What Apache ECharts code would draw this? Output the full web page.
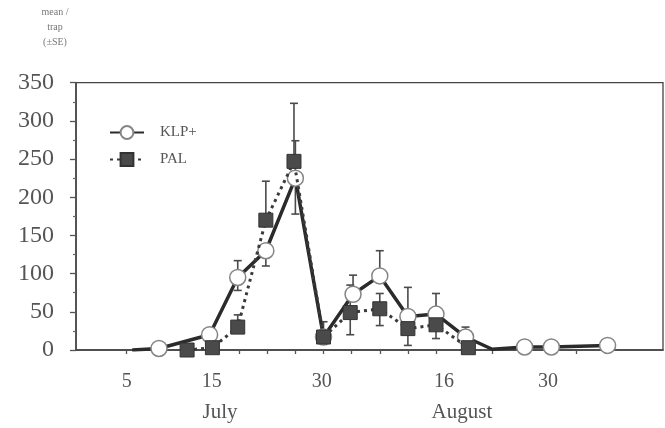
<!DOCTYPE html>
<html>
<head>
<meta charset="utf-8">
<script src="https://cdn.jsdelivr.net/npm/echarts@6/dist/echarts.min.js"></script>
<style>
  html, body { margin: 0; padding: 0; background: #ffffff; }
  #chart { width: 665px; height: 428px; }
</style>
</head>
<body>
<div id="chart"></div>
<script>
// ---- data (x in sampling-tick units, tick 0 = July 5) ----
const xTickPos = [0, 1, 2, 3, 4, 5, 6, 7, 8, 9, 10, 11, 12, 13, 14, 15, 16, 17];
const xTickLabelPos = [0, 3.03, 6.94, 11.28, 14.98];
const xTickLabels = ['5', '15', '30', '16', '30'];
const monthPos = [3.32, 11.92];
const monthLabels = ['July', 'August'];
const yTicks = [0, 50, 100, 150, 200, 250, 300, 350];

const klpX = [0.2, 1.15, 2.95, 3.95, 4.95, 6.0, 7.0, 8.05, 9.0, 10.0, 11.0, 12.05, 13.0, 14.15, 15.1, 17.1];
const klpMean = [0, 2, 20, 95, 130, 225, 17, 73, 97, 44, 47, 17, 1, 4, 4, 6];
const klpSEup = [0, 0, 0, 22, 0, 49, 0, 25, 33, 38, 27, 13, 0, 0, 0, 0];
const klpSEdown = [0, 0, 0, 17, 20, 47, 0, 0, 0, 38, 0, 0, 0, 0, 0, 0];
const klpNoMarker = [0, 12]; // vertices drawn without a circle in the original

const palX = [2.15, 3.05, 3.95, 4.95, 5.95, 7.0, 7.95, 9.0, 10.0, 11.0, 12.15];
const palMean = [0, 3, 30, 170, 247, 17, 49, 54, 28, 33, 3];
const palSEup = [0, 0, 16, 51, 76, 20, 36, 20, 0, 0, 0];
const palSEdown = [0, 0, 0, 0, 0, 0, 29, 22, 0, 18, 0];

// ---- build ----
const FONT = "'Liberation Serif', 'Times New Roman', serif";
const XMIN = -1.8, XMAX = 19.07;

const klpData = klpX.map((x, i) => {
  const d = { value: [x, klpMean[i]] };
  if (klpNoMarker.indexOf(i) >= 0) d.symbol = 'none';
  return d;
});
const palData = palX.map((x, i) => [x, palMean[i]]);
const klpErr = klpX.map((x, i) => [x, klpMean[i], klpSEup[i], klpSEdown[i]]);
const palErr = palX.map((x, i) => [x, palMean[i], palSEup[i], palSEdown[i]]);

function renderErr(params, api) {
  const x = api.value(0), y = api.value(1), up = api.value(2), dn = api.value(3);
  const c = api.coord([x, y]);
  const children = [];
  const st = { stroke: '#4a4a4a', lineWidth: 1.6 };
  const hw = 4;
  if (up > 0) {
    const t = api.coord([x, y + up]);
    children.push({ type: 'line', shape: { x1: c[0], y1: c[1], x2: t[0], y2: t[1] }, style: st });
    children.push({ type: 'line', shape: { x1: t[0] - hw, y1: t[1], x2: t[0] + hw, y2: t[1] }, style: st });
  }
  if (dn > 0) {
    const b = api.coord([x, y - dn]);
    children.push({ type: 'line', shape: { x1: c[0], y1: c[1], x2: b[0], y2: b[1] }, style: st });
    children.push({ type: 'line', shape: { x1: b[0] - hw, y1: b[1], x2: b[0] + hw, y2: b[1] }, style: st });
  }
  return { type: 'group', children: children };
}

const chart = echarts.init(document.getElementById('chart'), null, { renderer: 'canvas' });
chart.setOption({
  animation: false,
  backgroundColor: '#ffffff',
  title: {
    text: 'mean /\ntrap\n(±SE)',
    left: 50,
    top: 0,
    textAlign: 'center',
    textStyle: { fontFamily: FONT, fontSize: 10, fontWeight: 'normal', color: '#777', lineHeight: 15 }
  },
  legend: {
    orient: 'vertical',
    left: 104,
    top: 120,
    itemWidth: 34,
    itemHeight: 16,
    itemGap: 12,
    textStyle: { fontFamily: FONT, fontSize: 15, color: '#555', padding: [0, 0, 0, 11] },
    data: ['KLP+', 'PAL']
  },
  grid: {
    left: 76, right: 2, top: 82.7, bottom: 78,
    show: true, borderColor: '#444', borderWidth: 1.3, containLabel: false
  },
  xAxis: [{
    type: 'value',
    min: XMIN, max: XMAX,
    axisLine: { show: true, onZero: false, lineStyle: { color: '#444', width: 1.5 } },
    axisTick: { show: true, customValues: xTickPos, length: 4, lineStyle: { color: '#555', width: 1.3 } },
    axisLabel: {
      customValues: xTickLabelPos,
      formatter: function (v) {
        let best = 0;
        for (let i = 1; i < xTickLabelPos.length; i++) {
          if (Math.abs(xTickLabelPos[i] - v) < Math.abs(xTickLabelPos[best] - v)) best = i;
        }
        return xTickLabels[best];
      },
      fontFamily: FONT, fontSize: 20, color: '#555', margin: 22
    },
    splitLine: { show: false }
  }, {
    type: 'value',
    position: 'bottom',
    min: XMIN, max: XMAX,
    axisLine: { show: false, onZero: false },
    axisTick: { show: false },
    axisLabel: {
      customValues: monthPos,
      formatter: function (v) {
        return Math.abs(v - monthPos[0]) < Math.abs(v - monthPos[1]) ? monthLabels[0] : monthLabels[1];
      },
      fontFamily: FONT, fontSize: 21, color: '#555', margin: 52
    },
    splitLine: { show: false }
  }],
  yAxis: {
    type: 'value',
    min: yTicks[0], max: yTicks[yTicks.length - 1], interval: 50,
    axisLine: { show: true, onZero: false, lineStyle: { color: '#444', width: 1.5 } },
    axisTick: { show: true, length: 6, lineStyle: { color: '#555', width: 1.3 } },
    minorTick: { show: true, splitNumber: 2, length: 3, lineStyle: { color: '#666', width: 1.2 } },
    axisLabel: { fontFamily: FONT, fontSize: 24, color: '#555', margin: 22 },
    splitLine: { show: false }
  },
  series: [
    {
      type: 'custom', name: 'klpErr', renderItem: renderErr, data: klpErr,
      encode: { x: 0, y: 1 }, z: 1, silent: true
    },
    {
      type: 'custom', name: 'palErr', renderItem: renderErr, data: palErr,
      encode: { x: 0, y: 1 }, z: 1, silent: true
    },
    {
      name: 'KLP+', type: 'line', data: klpData, z: 3,
      symbol: 'circle', symbolSize: 16, showAllSymbol: true,
      lineStyle: { color: '#2b2b2b', width: 3.5 },
      itemStyle: { color: '#ffffff', borderColor: '#858585', borderWidth: 1.5 }
    },
    {
      name: 'PAL', type: 'line', data: palData, z: 4,
      symbol: 'rect', symbolSize: 14, showAllSymbol: true,
      lineStyle: { color: '#3a3a3a', width: 3, type: [3, 4] },
      itemStyle: { color: '#4a4a4a', borderColor: '#333', borderWidth: 1 }
    }
  ]
});
</script>
</body>
</html>
